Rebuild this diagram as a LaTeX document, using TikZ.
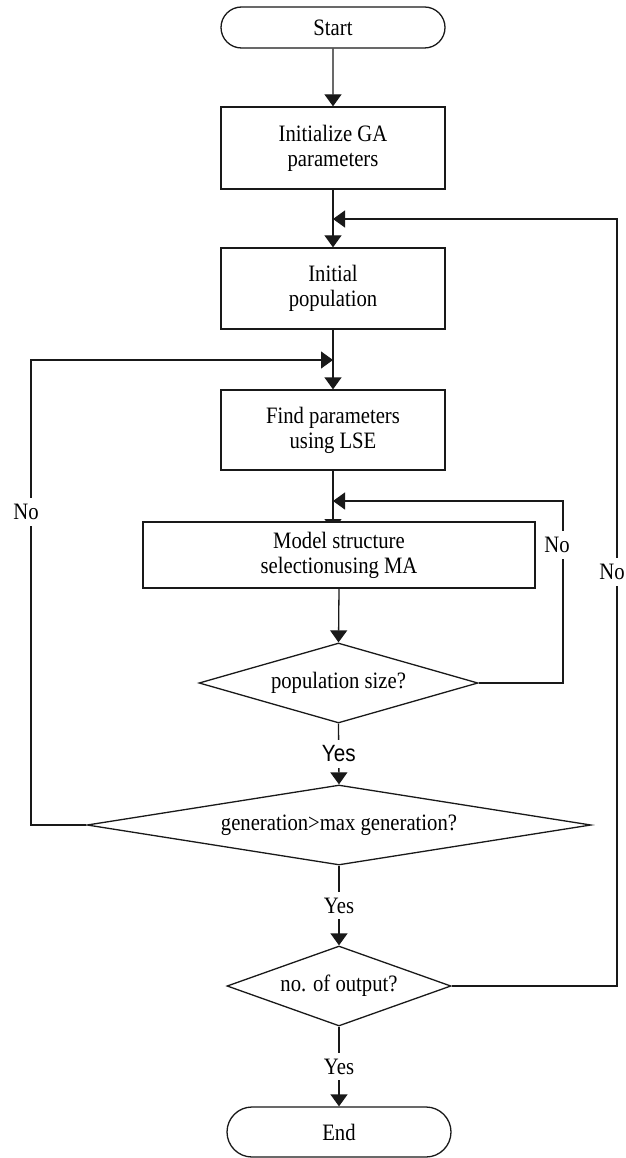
\documentclass[tikz,border=0pt]{standalone}
\usepackage{fontspec}
\setmainfont[FakeStretch=0.88]{Liberation Serif}
\newfontfamily\sansfam[FakeStretch=0.88]{Liberation Sans}
\usetikzlibrary{shapes.geometric,shapes.misc,arrows.meta,backgrounds}
\newcommand\dfont{\fontsize{23.5}{25}\selectfont}
\begin{document}
\begin{tikzpicture}[x=1pt,y=-1pt,
  line/.style={line width=1.3pt, draw=black!90},
  box/.style={line, rectangle, fill=white, minimum width=224pt, inner sep=0pt, align=center, font=\dfont},
  term/.style={line, rounded rectangle, fill=white, minimum width=224pt, inner sep=0pt, font=\dfont},
  dec/.style={line, diamond, fill=white, inner sep=0pt, font=\dfont},
  lab/.style={fill=white, draw=none, inner xsep=1pt, inner ysep=6pt, font=\dfont},
  arr/.style={line, -{Triangle[width=17pt,length=12pt]}}]
\useasboundingbox (0,0) rectangle (625,1158);
% nodes
\node[term, minimum height=41pt] (start) at (333,27.5) {Start};
\node[box, minimum height=82pt] (init) at (333,148) {Initialize GA\\parameters};
\node[box, minimum height=81pt] (pop) at (333,288.5) {Initial\\population};
\node[box, minimum height=80pt] (find) at (333,430) {Find parameters\\using LSE};
\node[box, minimum width=392pt, minimum height=66pt] (model) at (339,555) {Model structure\\selectionusing MA};
\node[dec, aspect=3.49, minimum width=279pt, minimum height=80pt] (d1) at (338.5,683) {population size?};
\node[dec, aspect=6.3, minimum width=504pt, minimum height=80pt] (d2) at (339,825) {generation>max generation?};
\node[dec, aspect=2.8, minimum width=224pt, minimum height=80pt] (d3) at (339,986) {no. of output?};
\node[term, minimum height=50pt] (end) at (339,1132) {End};
% junction coordinates
\coordinate (j1) at (333,219);
\coordinate (r1) at (617,219);
\coordinate (j2) at (333,360);
\coordinate (l1) at (31,360);
\coordinate (j3) at (333,501);
\coordinate (m1) at (563,501);
\coordinate (mtip) at (333,531);
\begin{pgfonlayer}{background}
\fill[white] (0,0) rectangle (625,1158);
\draw[arr] (start) -- (init);
\draw[arr] (init) -- (pop);
\draw[arr] (pop) -- (find);
\draw[arr] (find.south) -- (mtip);
\draw[arr] (model.south) -- (d1.north);
\draw[arr] (d1.south) -- node[lab, font=\sansfam\dfont] (yes1) {Yes} (d2.north);
\draw[arr] (d2.south) -- node[lab] (yes2) {Yes} (d3.north);
\draw[arr] (d3.south) -- node[lab] (yes3) {Yes} (end.north);
\draw[arr] (d3.east) -| (r1) -- (j1);
\draw[arr] (d2.west) -| (l1) -- (j2);
\draw[arr] (d1.east) -| (m1) -- (j3);
\end{pgfonlayer}
\node[lab] (no1) at (26,512) {No};
\node[lab] (no2) at (557,545) {No};
\node[lab] (no3) at (612,572) {No};
\end{tikzpicture}
\end{document}
